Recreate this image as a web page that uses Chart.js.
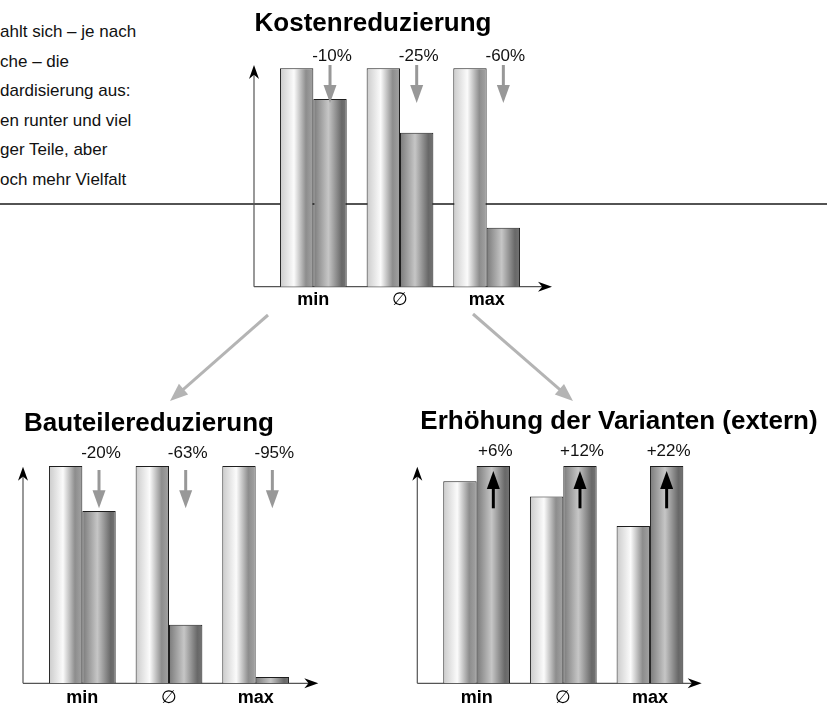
<!DOCTYPE html>
<html>
<head>
<meta charset="utf-8">
<script src="https://cdn.jsdelivr.net/npm/chart.js@4.4.1/dist/chart.umd.min.js"></script>
<style>
body { margin: 0; background: #fff; }
#page { position: relative; width: 827px; height: 708px; overflow: hidden; background: #fff;
        font-family: "Liberation Sans", Arial, Helvetica, sans-serif; }
#page svg { position: absolute; left: 0; top: 0; }
#page canvas { position: absolute; }
</style>
</head>
<body>
<div id="page">
  <svg id="hinten" width="827" height="708">
    <line x1="0" y1="204" x2="827" y2="204" stroke="#1a1a1a" stroke-width="1.5"/>
    <g font-size="17" fill="#111" font-family="Liberation Sans, Arial, sans-serif">
      <text x="0" y="37">ahlt sich – je nach</text>
      <text x="0" y="66.5">che – die</text>
      <text x="0" y="96">dardisierung aus:</text>
      <text x="0" y="125.5">en runter und viel</text>
      <text x="0" y="155">ger Teile, aber</text>
      <text x="0" y="184.5">och mehr Vielfalt</text>
    </g>
  </svg>
  <canvas id="kosten" width="340" height="280" style="left:230px;top:40px"></canvas>
  <canvas id="teile" width="340" height="268" style="left:0px;top:440px"></canvas>
  <canvas id="varianten" width="320" height="268" style="left:400px;top:440px"></canvas>
  <svg id="vorne" width="827" height="708">
    <g font-size="26" font-weight="bold" fill="#000" text-anchor="middle" font-family="Liberation Sans, Arial, sans-serif">
      <text x="373" y="31">Kostenreduzierung</text>
      <text x="149" y="431">Bauteilereduzierung</text>
      <text x="619" y="429">Erhöhung der Varianten (extern)</text>
    </g>
  </svg>
</div>
<script>
// Kategorien und Werte (Balkenhöhen relativ)
const categories = ['min', '\u2205', 'max'];

const kostenVorher = [100, 100, 100];
const kostenNachher = [86, 70.5, 27];
const kostenLabels = ['-10%', '-25%', '-60%'];

const teileVorher = [100, 100, 100];
const teileNachher = [79.3, 27, 2.9];
const teileLabels = ['-20%', '-63%', '-95%'];

const variantenVorher = [93, 86, 72.4];
const variantenNachher = [100, 100, 100];
const variantenLabels = ['+6%', '+12%', '+22%'];

const CAT_PCT = 0.77;
const hellStops = [[0, '#cbcbcb'], [0.42, '#fbfbfb'], [0.78, '#8d8d8d'], [1, '#a3a3a3']];
const dunkelStops = [[0, '#7a7a7a'], [0.45, '#c6c6c6'], [0.85, '#686868'], [1, '#747474']];

function cylinder(stops) {
    return function (c) {
        const chart = c.chart, xs = chart.scales.x, area = chart.chartArea;
        if (!xs || !area || c.dataIndex === undefined) return stops[1][1];
        let cw = xs.width / categories.length;
        let center = xs.getPixelForValue(c.dataIndex);
        if (!isFinite(cw) || !isFinite(center) || cw <= 0) {
            cw = (area.right - area.left) / categories.length;
            center = area.left + (c.dataIndex + 0.5) * cw;
        }
        const bw = cw * CAT_PCT / 2;
        const left = center - bw + c.datasetIndex * bw;
        if (!isFinite(left) || !isFinite(bw)) return stops[1][1];
        const g = chart.ctx.createLinearGradient(left, 0, left + bw, 0);
        stops.forEach(function (s) { g.addColorStop(s[0], s[1]); });
        return g;
    };
}

function arrowHead(ctx, x, y, dx, dy, len, half) {
    // Pfeilspitze mit Kerbe in Richtung (dx,dy)
    const px = -dy, py = dx;
    ctx.beginPath();
    ctx.moveTo(x, y);
    ctx.lineTo(x - dx * len + px * half, y - dy * len + py * half);
    ctx.lineTo(x - dx * len * 0.7, y - dy * len * 0.7);
    ctx.lineTo(x - dx * len - px * half, y - dy * len - py * half);
    ctx.closePath();
    ctx.fill();
}

function arrow(ctx, x, y1, y2, color, head, half) {
    const dir = y2 > y1 ? 1 : -1;
    ctx.strokeStyle = color;
    ctx.fillStyle = color;
    ctx.lineWidth = 3;
    ctx.beginPath();
    ctx.moveTo(x, y1);
    ctx.lineTo(x, y2 - dir * head + dir);
    ctx.stroke();
    ctx.beginPath();
    ctx.moveTo(x, y2);
    ctx.lineTo(x - half, y2 - dir * head);
    ctx.lineTo(x + half, y2 - dir * head);
    ctx.closePath();
    ctx.fill();
}

function deko(cfg) {
    return {
        id: 'deko',
        beforeDatasetsDraw(chart) {
            const a = chart.chartArea, ctx = chart.ctx;
            const ax = a.left - 16, tipY = a.top + cfg.yTip, tipX = a.right + cfg.xTip;
            ctx.save();
            ctx.strokeStyle = '#555';
            ctx.lineWidth = 1.2;
            ctx.beginPath();
            ctx.moveTo(ax, a.bottom);
            ctx.lineTo(ax, tipY + 8);
            ctx.moveTo(ax, a.bottom);
            ctx.lineTo(tipX - 8, a.bottom);
            ctx.stroke();
            ctx.fillStyle = '#000';
            arrowHead(ctx, ax, tipY, 0, -1, 14, 5);
            arrowHead(ctx, tipX, a.bottom, 1, 0, 14, 5);
            ctx.restore();
        },
        afterDatasetsDraw(chart) {
            const a = chart.chartArea, ctx = chart.ctx;
            const meta = chart.getDatasetMeta(1);
            ctx.save();
            meta.data.forEach(function (bar, i) {
                ctx.fillStyle = '#111';
                ctx.font = '17px "Liberation Sans", Arial, sans-serif';
                ctx.textAlign = 'center';
                ctx.textBaseline = 'middle';
                ctx.fillText(cfg.labels[i], bar.x + 2, a.top + cfg.labelY);
                arrow(ctx, bar.x, a.top + cfg.arrowFrom, a.top + cfg.arrowTo, cfg.arrowColor, 18, 6.5);
            });
            ctx.fillStyle = '#000';
            ctx.textAlign = 'center';
            ctx.textBaseline = 'middle';
            chart.data.labels.forEach(function (lab, i) {
                ctx.font = (lab === '\u2205' ? '' : 'bold ') + '18px "Liberation Sans", Arial, sans-serif';
                ctx.fillText(lab, chart.scales.x.getPixelForValue(i), a.bottom + cfg.catY);
            });
            ctx.restore();
        }
    };
}

function makeChart(id, vorher, nachher, pad, cfg) {
    return new Chart(document.getElementById(id), {
        type: 'bar',
        data: {
            labels: categories,
            datasets: [{
                data: vorher,
                backgroundColor: cylinder(hellStops),
                borderColor: '#1e1e1e',
                borderWidth: 1,
                clip: false
            }, {
                data: nachher,
                backgroundColor: cylinder(dunkelStops),
                borderColor: '#1e1e1e',
                borderWidth: 1,
                clip: false
            }]
        },
        options: {
            responsive: false,
            animation: false,
            devicePixelRatio: 1,
            events: [],
            layout: { padding: pad },
            datasets: { bar: { categoryPercentage: CAT_PCT, barPercentage: 1 } },
            scales: {
                x: { display: false },
                y: { display: false, min: 0, max: 100 }
            },
            plugins: { legend: { display: false }, tooltip: { enabled: false } }
        },
        plugins: [deko(cfg)]
    });
}

makeChart('kosten', kostenVorher, kostenNachher,
    { left: 40, top: 28.3, right: 40, bottom: 33.3 },
    { labels: kostenLabels, labelY: -12.3, arrowFrom: -3.3, arrowTo: 34.7, arrowColor: '#989898',
      yTip: -3.3, xTip: 22, catY: 13.3 });

makeChart('teile', teileVorher, teileNachher,
    { left: 39, top: 26, right: 41, bottom: 24.7 },
    { labels: teileLabels, labelY: -13, arrowFrom: 4, arrowTo: 42.3, arrowColor: '#989898',
      yTip: 0.7, xTip: 19.3, catY: 14.7 });

makeChart('varianten', variantenVorher, variantenNachher,
    { left: 33.3, top: 26, right: 26.7, bottom: 24.7 },
    { labels: variantenLabels, labelY: -14.3, arrowFrom: 42.3, arrowTo: 5, arrowColor: '#000',
      yTip: 0.7, xTip: 8.4, catY: 14.7 });

// graue Verbindungspfeile zwischen den Diagrammen
const svg = document.getElementById('vorne');
function svgArrow(x1, y1, x2, y2) {
    const ns = 'http://www.w3.org/2000/svg';
    const len = Math.hypot(x2 - x1, y2 - y1);
    const ux = (x2 - x1) / len, uy = (y2 - y1) / len;
    const hl = 18, hw = 7;
    const bx = x2 - ux * hl, by = y2 - uy * hl;
    const line = document.createElementNS(ns, 'line');
    line.setAttribute('x1', x1); line.setAttribute('y1', y1);
    line.setAttribute('x2', bx + ux); line.setAttribute('y2', by + uy);
    line.setAttribute('stroke', '#b4b4b4'); line.setAttribute('stroke-width', 3);
    svg.appendChild(line);
    const head = document.createElementNS(ns, 'polygon');
    head.setAttribute('points', [x2, y2, bx - uy * hw, by + ux * hw, bx + uy * hw, by - ux * hw].join(','));
    head.setAttribute('fill', '#b4b4b4');
    svg.appendChild(head);
}
svgArrow(268, 315, 170, 401);
svgArrow(473, 314, 573, 401);
</script>
</body>
</html>
